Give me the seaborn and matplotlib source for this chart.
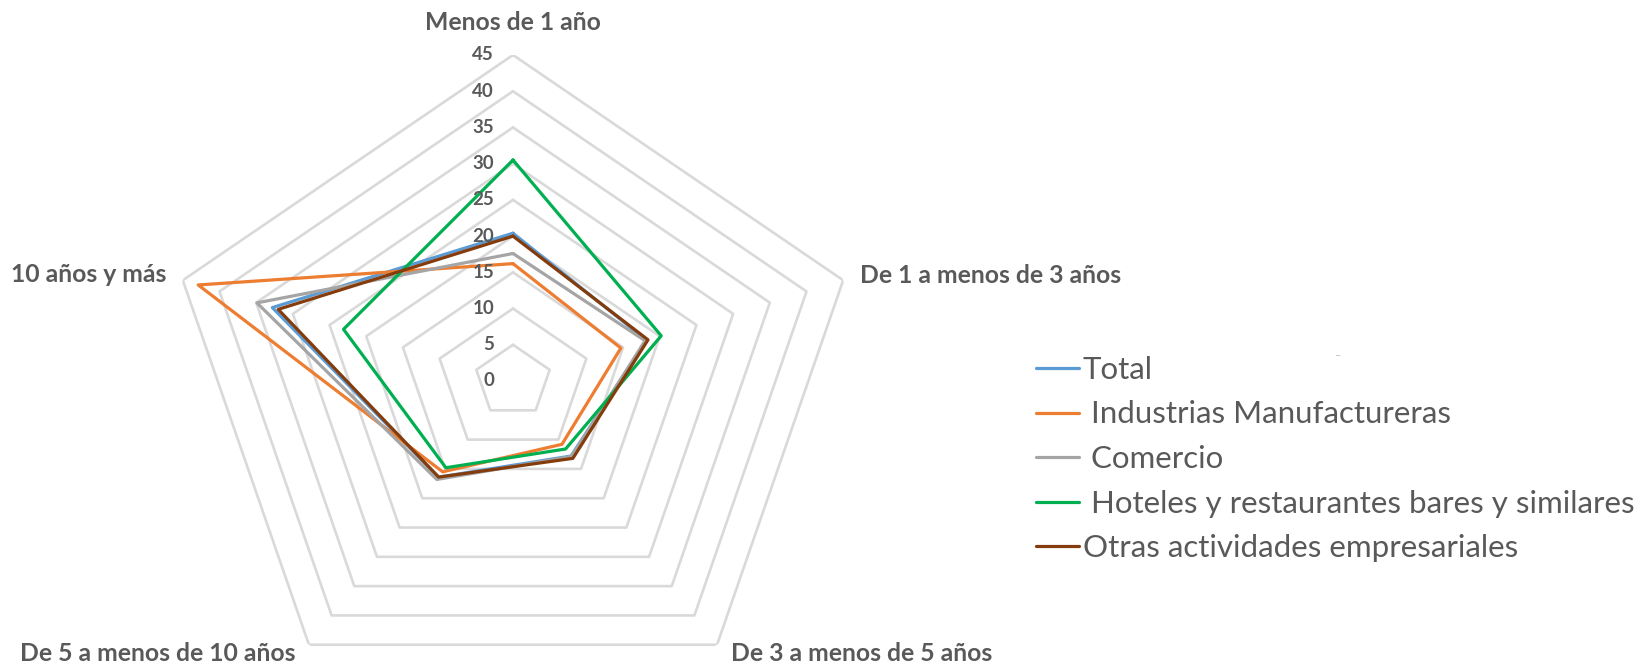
import matplotlib
matplotlib.use("Agg")
import matplotlib.pyplot as plt
import numpy as np
import pandas as pd
import seaborn as sns

# categories (clockwise from the top)
categorias = ["Menos de 1 año", "De 1 a menos de 3 años", "De 3 a menos de 5 años",
              "De 5 a menos de 10 años", "10 años y más"]
series = ["Total", " Industrias Manufactureras", " Comercio",
          " Hoteles y restaurantes bares y similares", "Otras actividades empresariales"]
total = [20.4, 18.2, 12.8, 16.4, 32.8]
industrias = [16.2, 14.7, 10.8, 15.5, 42.9]
comercio = [17.6, 18.0, 12.9, 16.8, 34.9]
hoteles = [30.5, 20.2, 11.6, 14.8, 23.1]
otras = [20.0, 18.4, 13.2, 16.4, 32.0]
ticks = [0, 5, 10, 15, 20, 25, 30, 35, 40, 45]
colores = ["#5b9bd5", "#ed7d31", "#a5a5a5", "#00b050", "#843c0c"]

sns.set_theme(style="white")
plt.rcParams['font.family'] = ['Lato', 'DejaVu Sans']

n = len(categorias)
theta = np.linspace(0, 2 * np.pi, n, endpoint=False)
theta_closed = np.append(theta, 0)

rows = []
for name, vals in zip(series, [total, industrias, comercio, hoteles, otras]):
    for t, v in zip(theta_closed, vals + vals[:1]):
        rows.append({"serie": name, "theta": t, "valor": v})
df = pd.DataFrame(rows)

W, H = 1645, 664
fig = plt.figure(figsize=(W / 100, H / 100), dpi=100)
cx, cy, ry = 513, 381, 326
rx = ry * 1.065
ax = fig.add_axes([(cx - rx) / W, (H - cy - ry) / H, 2 * rx / W, 2 * ry / H],
                  projection='polar')
ax.set_aspect('auto')
ax.set_theta_offset(np.pi / 2)
ax.set_theta_direction(-1)
ax.set_ylim(0, 45)
ax.grid(False)
ax.spines['polar'].set_visible(False)
ax.set_xticks([])
ax.set_yticks([])
ax.patch.set_alpha(0)

# pentagon rings
for v in ticks[1:]:
    ax.plot(theta_closed, [v] * (n + 1), color="#d9d9d9", lw=1.9, zorder=1)

sns.lineplot(data=df, x="theta", y="valor", hue="serie", hue_order=series,
             palette=colores, sort=False, estimator=None, lw=2.3, ax=ax, zorder=3)
ax.set_xlabel("")
ax.set_ylabel("")

# radial tick labels
for v in ticks:
    ax.annotate(str(v), xy=(0, v), xytext=(-19, 0), textcoords='offset pixels',
                ha='right', va='center', fontsize=13.5, fontweight='bold',
                color='#595959', annotation_clip=False)

# category labels
offs = [(0, 33, 'center'), (17, 5, 'left'), (14, -9, 'left'),
        (-13, -9, 'right'), (-16, 6, 'right')]
for t, lab, (dx, dy, ha) in zip(theta, categorias, offs):
    ax.annotate(lab, xy=(t, 45), xytext=(dx, dy), textcoords='offset pixels',
                ha=ha, va='center', fontsize=17.8, fontweight='bold',
                color='#595959', annotation_clip=False)

handles, labels = ax.get_legend_handles_labels()
ax.legend(handles, labels, loc='center left', bbox_to_anchor=(1036 / W, 1 - 459 / H),
          bbox_transform=fig.transFigure, frameon=False, fontsize=22.5,
          handlelength=1.38, handletextpad=0.12, labelspacing=0.53,
          labelcolor='#595959', borderaxespad=0, borderpad=0)

fig.text(1338 / W, 1 - 356 / H, "–", color="#bfbfbf", fontsize=8, ha='center', va='center')

fig.savefig("out.png", dpi=100)
